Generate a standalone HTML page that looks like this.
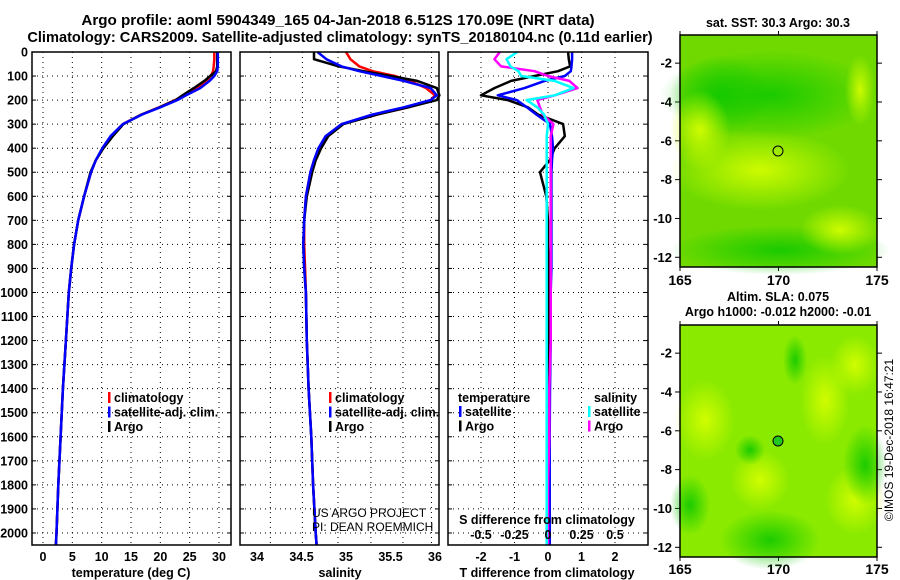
<!DOCTYPE html>
<html><head><meta charset="utf-8">
<style>
body{margin:0;background:#fff;}
svg{display:block;font-family:"Liberation Sans",sans-serif;font-weight:bold;}
</style></head>
<body>
<svg id="c" width="900" height="580" viewBox="0 0 900 580">
<defs>
<radialGradient id="g1" cx="50%" cy="50%" r="50%"><stop offset="0" stop-color="#d8ff00" stop-opacity="0.9"/><stop offset="1" stop-color="#d8ff00" stop-opacity="0"/></radialGradient>
<radialGradient id="g2" cx="50%" cy="50%" r="50%"><stop offset="0" stop-color="#10c800" stop-opacity="0.9"/><stop offset="1" stop-color="#10c800" stop-opacity="0"/></radialGradient>
</defs>
<text x="338" y="25" font-size="15.2" text-anchor="middle">Argo profile: aoml 5904349_165 04-Jan-2018 6.512S 170.09E (NRT data)</text>
<text x="340" y="42" font-size="14.6" text-anchor="middle">Climatology: CARS2009. Satellite-adjusted climatology: synTS_20180104.nc (0.11d earlier)</text>
<g id="plots"></g>
<!-- maps -->
<g>
<text x="778" y="27" font-size="12.5" text-anchor="middle">sat. SST: 30.3 Argo: 30.3</text>
<rect x="680" y="35" width="197" height="232" fill="#70da00"/>
<ellipse cx="770" cy="95" rx="110" ry="45" fill="url(#g2)"/>
<ellipse cx="720" cy="95" rx="50" ry="40" fill="url(#g2)"/>
<ellipse cx="760" cy="170" rx="90" ry="40" fill="url(#g1)"/>
<ellipse cx="700" cy="130" rx="30" ry="40" fill="url(#g1)"/>
<ellipse cx="860" cy="90" rx="15" ry="35" fill="url(#g1)"/>
<ellipse cx="780" cy="250" rx="110" ry="25" fill="url(#g2)"/>
<ellipse cx="840" cy="230" rx="40" ry="25" fill="url(#g1)"/>
<circle cx="778" cy="151" r="5" fill="none" stroke="#000" stroke-width="1"/>
<rect x="680" y="35" width="197" height="232" fill="none" stroke="#000" stroke-width="1.5"/>
</g>
<g>
<text x="778" y="301" font-size="12.5" text-anchor="middle">Altim. SLA: 0.075</text>
<text x="778" y="316" font-size="12.5" text-anchor="middle">Argo h1000: -0.012 h2000: -0.01</text>
<rect x="680" y="325" width="197" height="232" fill="#8aea00"/>
<ellipse cx="705" cy="420" rx="30" ry="40" fill="url(#g1)"/>
<ellipse cx="825" cy="400" rx="25" ry="45" fill="url(#g1)"/>
<ellipse cx="760" cy="480" rx="30" ry="30" fill="url(#g1)"/>
<ellipse cx="855" cy="500" rx="30" ry="35" fill="url(#g1)"/>
<ellipse cx="855" cy="365" rx="25" ry="30" fill="url(#g1)"/>
<ellipse cx="865" cy="465" rx="22" ry="40" fill="url(#g2)"/>
<ellipse cx="770" cy="540" rx="50" ry="30" fill="url(#g2)"/>
<ellipse cx="690" cy="505" rx="20" ry="30" fill="url(#g2)"/>
<ellipse cx="750" cy="450" rx="15" ry="15" fill="url(#g2)"/>
<ellipse cx="795" cy="360" rx="12" ry="25" fill="url(#g2)"/>
<circle cx="778" cy="441" r="5" fill="#20c820" stroke="#000" stroke-width="1"/>
<rect x="680" y="325" width="197" height="232" fill="none" stroke="#000" stroke-width="1.5"/>
</g>
<text transform="translate(893,440) rotate(-90)" font-size="12" font-weight="normal" text-anchor="middle">©IMOS 19-Dec-2018 16:47:21</text>
<text x="312" y="517" font-size="12" font-weight="normal">US ARGO PROJECT</text>
<text x="312" y="531" font-size="12" font-weight="normal">PI: DEAN ROEMMICH</text>
</svg>
<script>
// depth arrays and series
const depths = [0,30,60,80,100,120,150,180,200,230,260,300,350,400,450,500,600,700,800,900,1000,1200,1400,1600,1800,2000,2050];
const tempClim = [29.2,29.2,29.1,29.0,28.6,27.8,26.4,24.2,22.5,19.8,16.8,13.6,11.6,10.2,9.0,8.2,7.0,6.0,5.3,4.8,4.4,3.9,3.4,3.0,2.6,2.3,2.2];
const tempSat = [29.8,29.8,29.8,29.7,29.2,28.4,26.8,24.4,22.9,20.0,16.9,13.6,11.5,10.1,9.0,8.2,7.0,6.0,5.3,4.8,4.4,3.9,3.4,3.0,2.6,2.3,2.2];
const tempArgo = [29.7,29.7,29.7,29.5,28.5,27.5,25.7,23.8,22.6,19.9,16.8,13.7,11.9,10.3,9.0,8.1,7.0,6.0,5.3,4.8,4.4,3.9,3.4,3.0,2.6,2.3,2.2];
const salClim = [35.0,35.05,35.15,35.3,35.55,35.72,35.9,36.0,35.95,35.7,35.35,34.95,34.78,34.7,34.64,34.6,34.55,34.53,34.53,34.54,34.55,34.56,34.58,34.61,34.63,34.66,34.67];
const salSat = [34.68,34.78,34.95,35.15,35.4,35.65,35.95,36.02,35.95,35.65,35.3,34.95,34.77,34.69,34.64,34.6,34.55,34.53,34.52,34.53,34.55,34.56,34.58,34.61,34.63,34.66,34.67];
const salArgo = [34.64,34.64,34.92,35.2,35.5,35.8,36.02,36.05,36.02,35.7,35.35,34.97,34.8,34.72,34.66,34.62,34.56,34.53,34.52,34.53,34.55,34.56,34.58,34.61,34.63,34.66,34.67];
const dT_sat = [0.72,0.72,0.7,0.68,0.5,-0.1,-0.7,-1.5,-0.93,-0.63,-0.35,0.06,0.12,0.15,0.12,0.1,0.1,0.1,0.1,0.1,0.08,0.08,0.06,0.05,0.05,0.05,0.05];
const dT_argo = [0.6,0.62,0.66,0.3,-0.4,-1.1,-1.6,-2.0,-1.2,-0.6,-0.3,0.45,0.5,0.2,0.05,-0.24,-0.05,0.0,0.0,0.02,0.02,0.03,0.03,0.03,0.04,0.05,0.05];
const dS_sat = [-0.23,-0.31,-0.28,-0.22,-0.2,0.05,0.19,0.05,-0.16,-0.08,-0.03,0.0,-0.01,-0.01,-0.01,-0.01,-0.01,-0.01,-0.01,-0.01,-0.01,-0.01,-0.01,-0.01,-0.01,-0.01,-0.01];
const dS_argo = [-0.36,-0.40,-0.35,-0.1,0.0,0.16,0.22,0.05,-0.08,-0.06,-0.04,0.04,0.02,0.02,0.02,0.02,0.02,0.02,0.02,0.02,0.02,0.02,0.01,0.01,0.0,0.0,0.0];
const depthTicks = [0,100,200,300,400,500,600,700,800,900,1000,1100,1200,1300,1400,1500,1600,1700,1800,1900,2000];
const tempTicks = [0,5,10,15,20,25,30];
const salTicks = [34,34.5,35,35.5,36];
const salTickLabels = ["34","34.5","35","35.5","36"];
const dTTicks = [-2,-1,0,1,2];
const dSTicks = [-0.5,-0.25,0,0.25,0.5];
const dSTickLabels = ["-0.5","-0.25","0","0.25","0.5"];
const latTicks = [-2,-4,-6,-8,-10,-12];
const lonTicks = [165,170,175];

const NS = "http://www.w3.org/2000/svg";
const root = document.getElementById('plots');
function mk(tag, attrs, parent){const e=document.createElementNS(NS,tag);for(const k in attrs)e.setAttribute(k,attrs[k]);(parent||root).appendChild(e);return e;}
const Y0=52, YB=545;
const yD = d => Y0 + (YB-Y0)*d/2050;
function linX(d0,d1,p0,p1){return v=>p0+(v-d0)*(p1-p0)/(d1-d0);}

function panel(name,x0,x1,xs,grid){
  const g=mk('g',{});
  
  
  grid.forEach(v=>{mk('line',{x1:xs(v),x2:xs(v),y1:Y0,y2:YB,stroke:'#000','stroke-width':1,'stroke-dasharray':'1,4'},g);});
  depthTicks.forEach(d=>{if(d>0)mk('line',{x1:x0,x2:x1,y1:yD(d),y2:yD(d),stroke:'#000','stroke-width':1,'stroke-dasharray':'1,4'},g);
    mk('line',{x1:x0,x2:x0+4,y1:yD(d),y2:yD(d),stroke:'#000','stroke-width':1},g);
    mk('line',{x1:x1-4,x2:x1,y1:yD(d),y2:yD(d),stroke:'#000','stroke-width':1},g);});
  return g;
}
function series(g,name,xs,vals,color,w){
  const pts=depths.map((d,i)=>xs(vals[i]).toFixed(1)+','+yD(d).toFixed(1)).join(' ');
  const p=mk('polyline',{points:pts,fill:'none',stroke:color,'stroke-width':w||2.5,'stroke-linejoin':'round'},g);
  
  
}
function frame(g,x0,x1){mk('rect',{x:x0,y:Y0,width:x1-x0,height:YB-Y0,fill:'none',stroke:'#000','stroke-width':1.5},g);}
function txt(g,x,y,s,size,anchor,name){const t=mk('text',{x:x,y:y,'font-size':size,'text-anchor':anchor||'middle'},g);t.textContent=s;
  
  
  return t;}
function legend(g,x,y,items){items.forEach((it,i)=>{mk('rect',{x:x,y:y+i*14.5-10,width:2.5,height:11,fill:it[1]},g);txt(g,x+6,y+i*14.5,it[0],12.5,'start','legend-entry');});}

// Panel 1 temperature
const xT=linX(0,30,43,219);
const p1=panel('temperature-panel',32,231,xT,tempTicks);
series(p1,'temp-climatology-line',xT,tempClim,'#f00');
series(p1,'temp-argo-line',xT,tempArgo,'#000');
series(p1,'temp-satellite-line',xT,tempSat,'#00f');
frame(p1,32,231);
depthTicks.forEach(d=>txt(p1,28,yD(d)+4.5,String(d),12.5,'end','depth-tick-label'));
tempTicks.forEach(v=>txt(p1,xT(v),561,String(v),12.5,'middle','temp-tick-label'));
txt(p1,131,577,'temperature (deg C)',12.5,'middle','temp-axis-title');
legend(p1,108,402,[['climatology','#f00'],['satellite-adj. clim.','#00f'],['Argo','#000']]);

// Panel 2 salinity
const xS=linX(34,36,257,435);
const p2=panel('salinity-panel',240,439,xS,[34.15,34.51,34.91,35.28,35.64,35.96]);
series(p2,'sal-climatology-line',xS,salClim,'#f00');
series(p2,'sal-argo-line',xS,salArgo,'#000');
series(p2,'sal-satellite-line',xS,salSat,'#00f');
frame(p2,240,439);
salTicks.forEach((v,i)=>txt(p2,xS(v),561,salTickLabels[i],12.5,'middle','sal-tick-label'));
txt(p2,340,577,'salinity',12.5,'middle','sal-axis-title');
legend(p2,329,402,[['climatology','#f00'],['satellite-adj. clim.','#00f'],['Argo','#000']]);

// Panel 3 differences
const xdT=linX(-2,2,481,615);
const xdS=linX(-0.5,0.5,481,615);
const p3=panel('difference-panel',448,648,xdT,dTTicks);
series(p3,'dT-argo-line',xdT,dT_argo,'#000');
series(p3,'dT-satellite-line',xdT,dT_sat,'#00f');
series(p3,'dS-argo-line',xdS,dS_argo,'#f0f');
series(p3,'dS-satellite-line',xdS,dS_sat,'#0ff');
frame(p3,448,648);
txt(p3,458,402,'temperature',12.5,'start','legend-header-temperature');
txt(p3,594,402,'salinity',12.5,'start','legend-header-salinity');
legend(p3,459,416,[['satellite','#00f'],['Argo','#000']]);
legend(p3,588,416,[['satellite','#0ff'],['Argo','#f0f']]);
txt(p3,547,524,'S difference from climatology',12.5,'middle','s-diff-axis-title');
dSTicks.forEach((v,i)=>txt(p3,xdS(v),539,dSTickLabels[i],12.5,'middle','s-diff-tick-label'));
dTTicks.forEach(v=>txt(p3,xdT(v),561,String(v),12.5,'middle','t-diff-tick-label'));
txt(p3,547,577,'T difference from climatology',12.5,'middle','t-diff-axis-title');

// Map axes
function mapAxes(top,bot,lonY,name){
  const g=mk('g',{});
  
  
  const yL=linX(-0.55,-12.5,top,bot), xL=linX(165,175,680,877);
  latTicks.forEach(v=>{mk('line',{x1:675,x2:680,y1:yL(v),y2:yL(v),stroke:'#000'},g);mk('line',{x1:877,x2:882,y1:yL(v),y2:yL(v),stroke:'#000'},g);txt(g,672,yL(v)+4.5,String(v),13,'end','lat-tick-label');});
  lonTicks.forEach(v=>{mk('line',{x1:xL(v),x2:xL(v),y1:bot,y2:bot+4,stroke:'#000'},g);mk('line',{x1:xL(v),x2:xL(v),y1:top-4,y2:top,stroke:'#000'},g);txt(g,xL(v),lonY,String(v),14,'middle','lon-tick-label');});
}
mapAxes(35,267,285,'sst-map-axes');
mapAxes(325,557,574,'sla-map-axes');
</script>
</body></html>
